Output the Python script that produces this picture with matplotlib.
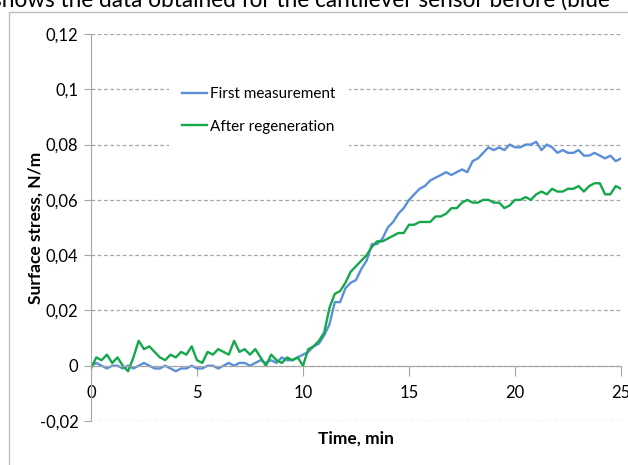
"""
Cantilever sensor response: first measurement vs after regeneration
"""

import numpy as np
import matplotlib
matplotlib.use('Agg')
import matplotlib.pyplot as plt
from matplotlib.patches import Rectangle
from matplotlib.ticker import FuncFormatter

plt.rcParams['font.family'] = ['Lato', 'DejaVu Sans']

time_min = np.arange(101) * 0.25

first_measurement = [
    0.000, 0.001, 0.000, -0.001, 0.000, 0.000, -0.001, 0.000, -0.001,
    0.000, 0.001, 0.000, -0.001, -0.001, 0.000, -0.001, -0.002,
    -0.001, -0.001, 0.000, -0.001, -0.001, 0.000, 0.000, -0.001,
    0.000, 0.001, 0.000, 0.001, 0.001, 0.000, 0.001, 0.002,
    0.001, 0.002, 0.001, 0.003, 0.002, 0.002, 0.003, 0.004,
    0.005, 0.007, 0.008, 0.011, 0.015, 0.023, 0.023, 0.028,
    0.030, 0.031, 0.035, 0.038, 0.044, 0.044, 0.046, 0.050,
    0.052, 0.055, 0.057, 0.060, 0.062, 0.064, 0.065, 0.067,
    0.068, 0.069, 0.070, 0.069, 0.070, 0.071, 0.070, 0.074,
    0.075, 0.077, 0.079, 0.078, 0.079, 0.078, 0.080, 0.079,
    0.079, 0.080, 0.080, 0.081, 0.078, 0.080, 0.079, 0.077,
    0.078, 0.077, 0.077, 0.078, 0.076, 0.076, 0.077, 0.076,
    0.075, 0.076, 0.074, 0.075,
]

after_regeneration = [
    -0.001, 0.003, 0.002, 0.004, 0.001, 0.003, 0.000, -0.002, 0.003,
    0.009, 0.006, 0.007, 0.005, 0.003, 0.002, 0.004, 0.003,
    0.005, 0.004, 0.007, 0.002, 0.001, 0.005, 0.004, 0.006,
    0.005, 0.004, 0.009, 0.005, 0.006, 0.004, 0.006, 0.003,
    0.000, 0.004, 0.002, 0.001, 0.003, 0.002, 0.003, 0.000,
    0.006, 0.007, 0.009, 0.012, 0.021, 0.026, 0.027, 0.030,
    0.034, 0.036, 0.038, 0.040, 0.043, 0.045, 0.045, 0.046,
    0.047, 0.048, 0.048, 0.051, 0.051, 0.052, 0.052, 0.052,
    0.054, 0.054, 0.055, 0.057, 0.057, 0.059, 0.060, 0.059,
    0.059, 0.060, 0.060, 0.059, 0.059, 0.057, 0.058, 0.060,
    0.060, 0.061, 0.060, 0.062, 0.063, 0.062, 0.064, 0.063,
    0.063, 0.064, 0.064, 0.065, 0.063, 0.065, 0.066, 0.066,
    0.062, 0.062, 0.065, 0.064,
]

series_labels = ['First measurement', 'After regeneration']
series_colors = ['#5B8FD9', '#15A84A']
x_ticks = [0, 5, 10, 15, 20, 25]
y_ticks = [-0.02, 0, 0.02, 0.04, 0.06, 0.08, 0.1, 0.12]
caption = 'shows the data obtained for the cantilever sensor before (blue'

W, H = 628, 465
fig = plt.figure(figsize=(W / 100, H / 100), dpi=100)
ax = fig.add_axes([91 / W, 1 - 421 / H, 530 / W, 387 / H])

# chart area frame and the clipped caption line above it
fig.patches.append(Rectangle((9 / W, -0.1), 1.2, 1.1 - 12 / H,
                             transform=fig.transFigure, fill=False,
                             edgecolor='#BFBFBF', linewidth=1.0))
fig.text(-0.012, 1 - 7 / H, caption, fontsize=16.3, va='baseline',
         ha='left', color='black')

ax.plot(time_min, first_measurement, color=series_colors[0], lw=1.7,
        label=series_labels[0])
ax.plot(time_min, after_regeneration, color=series_colors[1], lw=1.7,
        label=series_labels[1])

ax.set_xlim(0, 25)
ax.set_ylim(-0.02, 0.12)
ax.set_xticks(x_ticks)
ax.set_yticks(y_ticks)


def comma_fmt(v, pos):
    s = f'{v:.2f}'.rstrip('0').rstrip('.')
    if s in ('-0', ''):
        s = '0'
    return s.replace('.', ',')


ax.yaxis.set_major_formatter(FuncFormatter(comma_fmt))

ax.grid(axis='y', color='#A6A6A6', linestyle=(0, (3, 2)), linewidth=0.9)
ax.set_axisbelow(True)

for side in ['top', 'right']:
    ax.spines[side].set_visible(False)
ax.spines['bottom'].set_position(('data', 0))
ax.spines['bottom'].set_color('#A6A6A6')
ax.spines['left'].set_color('#A6A6A6')
ax.tick_params(axis='x', direction='out', length=7, color='#A6A6A6',
               labelsize=12, pad=7)
ax.tick_params(axis='y', direction='out', length=5, color='#A6A6A6',
               labelsize=12, pad=4)

ax.set_xlabel('Time, min', fontsize=12.5, fontweight='bold')
ax.set_ylabel('Surface stress, N/m', fontsize=12.5, fontweight='bold')
ax.xaxis.set_label_coords(0.5, -0.025)
ax.yaxis.set_label_coords(-0.09, 0.5)

leg = ax.legend(loc='upper left', bbox_to_anchor=(70 / 530, 1 - 32 / 387),
                fontsize=11, frameon=True, handlelength=1.6,
                handletextpad=0.2, labelspacing=1.2, borderpad=0.9,
                fancybox=False)
leg.get_frame().set_edgecolor('none')
leg.get_frame().set_facecolor('white')
leg.get_frame().set_alpha(1)

fig.savefig('out.png', dpi=100)
